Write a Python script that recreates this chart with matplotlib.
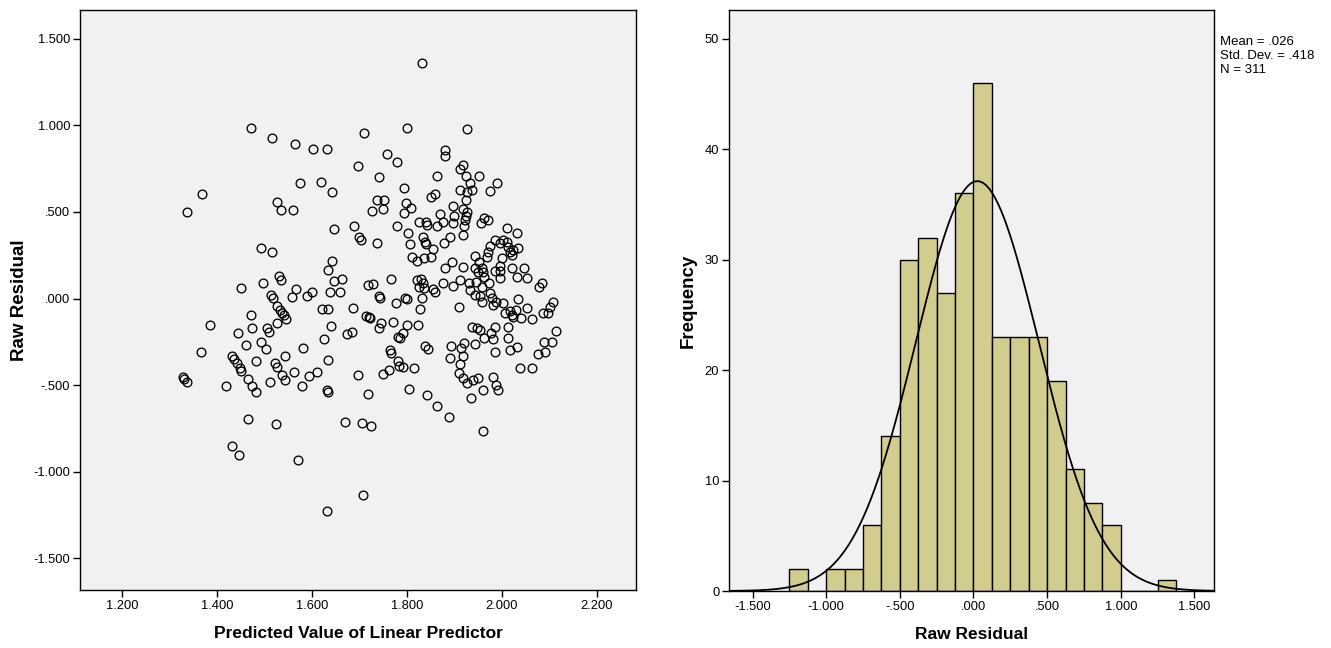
import numpy as np
import matplotlib
matplotlib.use("Agg")
import matplotlib.pyplot as plt

plt.rcParams['font.family'] = ['Liberation Sans', 'DejaVu Sans']

# --- scatter: predicted value vs raw residual ---
pred = [
    1.337, 1.368, 1.385, 1.366, 1.328, 1.331, 1.337, 1.419, 1.432, 1.436,
    1.442, 1.448, 1.451, 1.432, 1.446, 1.465, 1.461, 1.444, 1.472, 1.474,
    1.465, 1.474, 1.482, 1.482, 1.493, 1.503, 1.505, 1.509, 1.526, 1.526,
    1.533, 1.537, 1.541, 1.545, 1.514, 1.518, 1.451, 1.497, 1.531, 1.535,
    1.493, 1.516, 1.472, 1.516, 1.564, 1.526, 1.535, 1.560, 1.575, 1.512,
    1.522, 1.526, 1.524, 1.537, 1.543, 1.543, 1.558, 1.562, 1.566, 1.571,
    1.602, 1.632, 1.619, 1.642, 1.709, 1.697, 1.758, 1.779, 1.741, 1.737,
    1.752, 1.726, 1.749, 1.779, 1.646, 1.688, 1.699, 1.703, 1.737, 1.642,
    1.634, 1.646, 1.663, 1.718, 1.728, 1.766, 1.589, 1.600, 1.638, 1.659,
    1.741, 1.743, 1.777, 1.686, 1.621, 1.634, 1.714, 1.720, 1.722, 1.745,
    1.741, 1.771, 1.640, 1.674, 1.684, 1.625, 1.581, 1.781, 1.764, 1.766,
    1.634, 1.781, 1.783, 1.579, 1.594, 1.611, 1.632, 1.634, 1.697, 1.749,
    1.762, 1.718, 1.669, 1.705, 1.724, 1.707, 1.632,
    1.832, 1.800, 1.926, 1.880, 1.880, 1.918, 1.912, 1.924, 1.933, 1.937,
    1.926, 1.912, 1.863, 1.952, 1.794, 1.851, 1.859, 1.798, 1.808, 1.794,
    1.897, 1.899, 1.918, 1.926, 1.924, 1.922, 1.920, 1.869, 1.876, 1.825,
    1.840, 1.842, 1.863, 1.897, 1.918, 1.802, 1.806, 1.834, 1.838, 1.840,
    1.855, 1.891, 1.878, 1.811, 1.821, 1.836, 1.851, 1.943, 1.952, 1.880,
    1.895, 1.918, 1.943, 1.949, 1.821, 1.829, 1.834, 1.825, 1.836, 1.876,
    1.912, 1.931, 1.945, 1.897, 1.855, 1.859, 1.933, 1.943, 1.832, 1.796,
    1.800, 1.827, 1.909, 1.800, 1.792, 1.785, 1.823, 1.937, 1.947, 1.943,
    1.838, 1.844, 1.893, 1.891, 1.920, 1.914, 1.918, 1.912, 1.909, 1.918,
    1.926, 1.939, 1.792, 1.815, 1.804, 1.842, 1.863, 1.888, 1.935, 1.949,
    1.989, 1.975, 1.956, 1.962, 1.971, 2.011, 2.032, 1.985, 1.996, 2.002,
    2.011, 2.013, 2.017, 2.023, 2.021, 2.034, 1.975, 1.971, 1.968, 2.000,
    1.958, 1.960, 1.996, 1.996, 1.985, 2.021, 2.032, 2.046, 2.053, 1.973,
    1.962, 1.996, 2.084, 2.078, 1.958, 1.958, 1.975, 1.979, 1.981, 1.987,
    2.002, 2.006, 2.017, 2.021, 2.029, 2.034, 2.053, 2.040, 2.063, 2.086,
    2.097, 2.101, 2.107, 2.114, 1.985, 1.977, 1.981, 1.985, 2.013, 2.013,
    2.017, 2.032, 1.954, 1.962, 2.088, 2.105, 2.076, 2.091, 2.038, 2.063,
    1.981, 1.987, 1.992, 1.960, 1.960, 1.954, 2.023, 1.924,
]
resid = [
    0.499, 0.603, -0.153, -0.309, -0.453, -0.465, -0.482, -0.505, -0.332, -0.349,
    -0.372, -0.401, -0.418, -0.851, -0.903, -0.695, -0.268, -0.199, -0.095, -0.170,
    -0.465, -0.505, -0.540, -0.361, -0.251, -0.291, -0.170, -0.193, -0.141, -0.043,
    -0.066, -0.084, -0.095, -0.118, 0.020, 0.003, 0.061, 0.089, 0.130, 0.107,
    0.291, 0.268, 0.984, 0.926, 0.892, 0.557, 0.511, 0.511, 0.666, -0.482,
    -0.372, -0.395, -0.724, -0.441, -0.470, -0.332, 0.009, -0.424, 0.055, -0.932,
    0.863, 0.863, 0.672, 0.615, 0.955, 0.765, 0.834, 0.788, 0.701, 0.568,
    0.568, 0.505, 0.516, 0.418, 0.401, 0.418, 0.355, 0.338, 0.320, 0.216,
    0.164, 0.101, 0.113, 0.078, 0.084, 0.113, 0.014, 0.038, 0.038, 0.038,
    0.014, 0.003, -0.026, -0.055, -0.061, -0.061, -0.101, -0.107, -0.113, -0.141,
    -0.170, -0.136, -0.159, -0.205, -0.193, -0.234, -0.286, -0.222, -0.297, -0.314,
    -0.355, -0.361, -0.389, -0.505, -0.447, -0.424, -0.528, -0.540, -0.441, -0.436,
    -0.413, -0.551, -0.713, -0.718, -0.736, -1.134, -1.226,
    1.359, 0.984, 0.978, 0.857, 0.822, 0.770, 0.747, 0.707, 0.666, 0.626,
    0.615, 0.626, 0.707, 0.707, 0.638, 0.586, 0.603, 0.551, 0.522, 0.493,
    0.534, 0.476, 0.516, 0.499, 0.476, 0.453, 0.418, 0.488, 0.441, 0.441,
    0.441, 0.424, 0.418, 0.436, 0.366, 0.378, 0.314, 0.355, 0.326, 0.314,
    0.286, 0.355, 0.320, 0.239, 0.216, 0.234, 0.239, 0.245, 0.211, 0.176,
    0.211, 0.182, 0.176, 0.153, 0.107, 0.113, 0.089, 0.066, 0.061, 0.089,
    0.107, 0.089, 0.095, 0.072, 0.055, 0.038, 0.049, 0.020, 0.003, 0.003,
    -0.003, -0.061, -0.049, -0.153, -0.199, -0.228, -0.153, -0.164, -0.170, -0.263,
    -0.274, -0.291, -0.274, -0.343, -0.257, -0.286, -0.332, -0.378, -0.430, -0.459,
    -0.488, -0.470, -0.395, -0.401, -0.522, -0.557, -0.620, -0.684, -0.574, -0.459,
    0.666, 0.620, 0.436, 0.465, 0.453, 0.407, 0.378, 0.338, 0.320, 0.338,
    0.326, 0.297, 0.268, 0.280, 0.251, 0.291, 0.303, 0.268, 0.239, 0.234,
    0.176, 0.153, 0.188, 0.159, 0.159, 0.176, 0.124, 0.176, 0.118, 0.089,
    0.124, 0.118, 0.089, 0.066, 0.066, -0.020, 0.032, 0.003, -0.038, -0.020,
    -0.026, -0.084, -0.072, -0.095, -0.066, -0.003, -0.055, -0.113, -0.118, -0.084,
    -0.084, -0.049, -0.020, -0.188, -0.164, -0.199, -0.234, -0.309, -0.164, -0.228,
    -0.297, -0.280, -0.182, -0.228, -0.251, -0.251, -0.320, -0.309, -0.401, -0.401,
    -0.453, -0.499, -0.528, -0.528, -0.765, 0.014, -0.107, 0.568,
]

# --- histogram of raw residuals ---
bin_left = [-1.250, -1.125, -1.000, -0.875, -0.750, -0.625, -0.500, -0.375, -0.250, -0.125,
            0.000, 0.125, 0.250, 0.375, 0.500, 0.625, 0.750, 0.875, 1.000, 1.125, 1.250]
bin_count = [2, 0, 2, 2, 6, 14, 30, 32, 27, 36,
             46, 23, 23, 23, 19, 11, 8, 6, 0, 0, 1]
bin_width = 0.125
res_mean = 0.026
res_sd = 0.418
res_n = 311

scatter_yticks = [1.5, 1.0, 0.5, 0.0, -0.5, -1.0, -1.5]
scatter_ylabels = ['1.500', '1.000', '.500', '.000', '-.500', '-1.000', '-1.500']
scatter_xticks = [1.2, 1.4, 1.6, 1.8, 2.0, 2.2]
scatter_xlabels = ['1.200', '1.400', '1.600', '1.800', '2.000', '2.200']
hist_xticks = [-1.5, -1.0, -0.5, 0.0, 0.5, 1.0, 1.5]
hist_xlabels = ['-1.500', '-1.000', '-.500', '.000', '.500', '1.000', '1.500']
hist_yticks = [0, 10, 20, 30, 40, 50]

W, H = 1331, 648
fig = plt.figure(figsize=(W / 100, H / 100), dpi=100)
bg = '#f1f1f1'


def frame(ax):
    ax.set_facecolor(bg)
    for s in ax.spines.values():
        s.set_color('black')
        s.set_linewidth(1.0)
    ax.tick_params(axis='both', direction='out', length=5, width=1,
                   labelsize=9.3, colors='black', pad=2)


# scatter panel
ax1 = fig.add_axes([80 / W, 1 - 590 / H, (636 - 80) / W, (590 - 10) / H])
frame(ax1)
ax1.plot(pred, resid, linestyle='none', marker='o', ms=6.3,
         mfc='none', mec='black', mew=0.95)
ax1.set_xlim(1.1116, 2.282)
ax1.set_ylim(-1.682, 1.665)
ax1.set_xticks(scatter_xticks)
ax1.set_xticklabels(scatter_xlabels)
ax1.set_yticks(scatter_yticks)
ax1.set_yticklabels(scatter_ylabels)
ax1.set_xlabel('Predicted Value of Linear Predictor', fontsize=12.5,
               fontweight='bold', labelpad=10)
ax1.set_ylabel('Raw Residual', fontsize=13.5, fontweight='bold', labelpad=4)

# histogram panel
ax2 = fig.add_axes([729 / W, 1 - 591 / H, (1214 - 729) / W, (591 - 10) / H])
frame(ax2)
ax2.bar(bin_left, bin_count, width=bin_width, align='edge',
        color='#d2cc8e', edgecolor='black', linewidth=1.0, zorder=2)
ax2.set_xlim(-1.66, 1.633)
ax2.set_ylim(0, 52.6)
xs = np.linspace(-1.66, 1.633, 400)
curve = res_n * bin_width / (res_sd * np.sqrt(2 * np.pi)) * np.exp(-0.5 * ((xs - res_mean) / res_sd) ** 2)
ax2.plot(xs, curve, color='black', lw=1.3, zorder=3)
ax2.set_xticks(hist_xticks)
ax2.set_xticklabels(hist_xlabels)
ax2.set_yticks(hist_yticks)
ax2.set_xlabel('Raw Residual', fontsize=12.5, fontweight='bold', labelpad=10)
ax2.set_ylabel('Frequency', fontsize=13.5, fontweight='bold', labelpad=6)

fig.text(1220 / W, 1 - 36 / H,
         'Mean = .026\nStd. Dev. = .418\nN = 311',
         fontsize=9.5, va='top', ha='left', linespacing=1.22)

fig.savefig('out.png', dpi=100, facecolor='white')
